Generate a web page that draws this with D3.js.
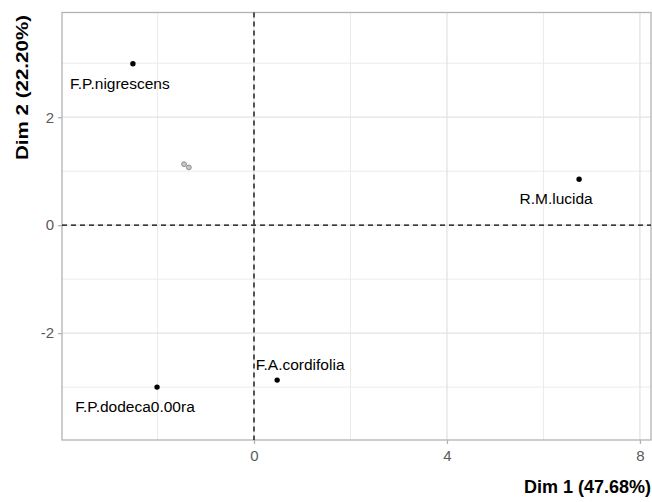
<!DOCTYPE html>
<html><head><meta charset="utf-8">
<script src="https://cdn.jsdelivr.net/npm/d3@7"></script>
<style>body{margin:0;background:#fff}svg{display:block}text{font-family:"Liberation Sans",Arial,sans-serif}</style>
</head><body>
<svg id="c" width="652" height="502"></svg>
<script>
const names = ["F.P.nigrescens","R.M.lucida","F.A.cordifolia","F.P.dodeca0.00ra"];
const dim1 = [-2.51, 6.74, 0.48, -2.01];
const dim2 = [2.99, 0.85, -2.87, -3.00];
const supDim1 = [-1.45, -1.35];
const supDim2 = [1.13, 1.07];
const xTicks = [0, 4, 8];
const yTicks = [-2, 0, 2];
const xMinor = [-2, 2, 6];
const yMinor = [-3, -1, 1, 3];
const xTitle = "Dim 1 (47.68%)";
const yTitle = "Dim 2 (22.20%)";

const labelOffsets = [[-13,21],[-23,21],[23,-14],[-22,21]];

const svg = d3.select("#c");
const L = 62, R = 651, T = 12.5, B = 440;
const x = d3.scaleLinear().domain([-3.98, 8.23]).range([L, R]);
const y = d3.scaleLinear().domain([-3.98, 3.94]).range([B, T]);

const g = svg.append("g");
g.selectAll(".xm").data(xMinor).join("line")
  .attr("x1", d=>x(d)).attr("x2", d=>x(d)).attr("y1", T).attr("y2", B)
  .attr("stroke", "#ebebeb").attr("stroke-width", 1);
g.selectAll(".ym").data(yMinor).join("line")
  .attr("y1", d=>y(d)).attr("y2", d=>y(d)).attr("x1", L).attr("x2", R)
  .attr("stroke", "#ebebeb").attr("stroke-width", 1);
g.selectAll(".xM").data(xTicks).join("line")
  .attr("x1", d=>x(d)).attr("x2", d=>x(d)).attr("y1", T).attr("y2", B)
  .attr("stroke", "#e3e3e3").attr("stroke-width", 1.3);
g.selectAll(".yM").data(yTicks).join("line")
  .attr("y1", d=>y(d)).attr("y2", d=>y(d)).attr("x1", L).attr("x2", R)
  .attr("stroke", "#e3e3e3").attr("stroke-width", 1.3);

svg.append("rect").attr("x", L).attr("y", T).attr("width", R-L).attr("height", B-T)
  .attr("fill", "none").attr("stroke", "#b3b3b3").attr("stroke-width", 1.3);

const xAxis = svg.append("g").attr("transform", `translate(0,${B})`)
  .call(d3.axisBottom(x).tickValues(xTicks).tickSize(4).tickPadding(6).tickFormat(d3.format("d")));
const yAxis = svg.append("g").attr("transform", `translate(${L},0)`)
  .call(d3.axisLeft(y).tickValues(yTicks).tickSize(4).tickPadding(4).tickFormat(d=>d<0?"-"+Math.abs(d):d));
[xAxis, yAxis].forEach(a=>{
  a.select(".domain").remove();
  a.selectAll(".tick line").attr("stroke", "#b3b3b3").attr("stroke-width", 1.3);
  a.selectAll(".tick text").attr("fill", "#5a5a5a").style("font-size", "15px").style("font-family", '"Liberation Sans",Arial,sans-serif');
});

svg.append("line").attr("x1", L).attr("x2", R).attr("y1", y(0)).attr("y2", y(0))
  .attr("stroke", "#000").attr("stroke-width", 1.3).attr("stroke-dasharray", "5,4");
svg.append("line").attr("y1", T).attr("y2", B).attr("x1", x(0)).attr("x2", x(0))
  .attr("stroke", "#000").attr("stroke-width", 1.3).attr("stroke-dasharray", "5,4");

svg.selectAll(".sup").data(supDim1).join("circle")
  .attr("cx", d=>x(d)).attr("cy", (d,i)=>y(supDim2[i])).attr("r", 2.4)
  .attr("fill", "#c8c8c8").attr("stroke", "#8a8a8a").attr("stroke-width", 1);

svg.selectAll(".pt").data(names).join("circle")
  .attr("cx", (d,i)=>x(dim1[i])).attr("cy", (d,i)=>y(dim2[i])).attr("r", 2.7)
  .attr("fill", "#000");
svg.selectAll(".lbl").data(names).join("text")
  .attr("x", (d,i)=>x(dim1[i]) + labelOffsets[i][0])
  .attr("y", (d,i)=>y(dim2[i]) + labelOffsets[i][1])
  .attr("text-anchor", "middle").attr("dominant-baseline", "middle")
  .style("font-size", "15.5px").attr("fill", "#000")
  .text(d=>d);

svg.append("text").attr("x", R).attr("y", 493).attr("text-anchor", "end")
  .style("font-size", "18px").style("font-weight", "bold").text(xTitle);
svg.append("text").attr("transform", `translate(28,15) rotate(-90)`).attr("text-anchor", "end")
  .attr("textLength", 145).attr("lengthAdjust", "spacingAndGlyphs")
  .style("font-size", "17px").style("font-weight", "bold").text(yTitle);
</script>
</body></html>
